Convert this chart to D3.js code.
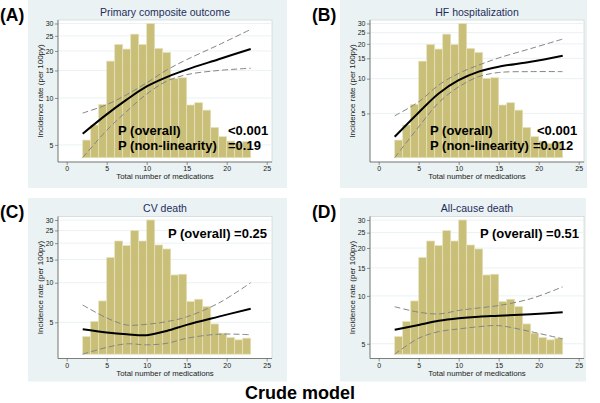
<!DOCTYPE html>
<html>
<head>
<meta charset="utf-8">
<script src="https://cdn.jsdelivr.net/npm/d3@7"></script>
<style>
  body { margin: 0; background: #fff; }
  svg text { font-family: "Liberation Sans", Arial, sans-serif; }
</style>
</head>
<body>
<svg id="viz" width="600" height="403"></svg>
<script>
// histogram of number of medications (percent of patients per 1-unit bin)
var binStarts = [2, 3, 4, 5, 6, 7, 8, 9, 10, 11, 12, 13, 14, 15, 16, 17, 18, 19, 20, 21, 22];
var binPct = [1.24, 2.30, 3.75, 6.80, 7.97, 7.65, 8.70, 7.97, 9.45, 7.69, 7.41,
              5.58, 5.63, 3.71, 3.87, 3.35, 2.13, 1.48, 1.17, 1.01, 1.13];

var xTicks = [0, 5, 10, 15, 20, 25];
var yTicks = [5, 10, 15, 20, 25, 30];
var yMax = 30;

// spline fit, incidence rate per 100py
var fitX = [2, 5, 7.5, 10, 12.5, 15, 19, 23];

var fitA = [5.9, 7.85, 9.75, 11.85, 13.6, 15.2, 17.7, 20.6];
var upA  = [8.0, 9.05, 10.5, 12.5, 15.1, 17.6, 21.9, 27.5];
var loA  = [4.14, 6.2, 8.2, 10.6, 12.8, 14.1, 15.0, 15.5];

var fitB = [3.14, 5.1, 7.45, 9.7, 11.5, 12.7, 14.0, 15.8];
var upB  = [4.77, 6.3, 8.8, 11.1, 13.1, 15.1, 18.2, 22.0];
var loB  = [2.07, 3.83, 6.2, 8.5, 10.4, 11.3, 11.5, 11.5];

var fitC = [4.43, 4.19, 4.06, 3.99, 4.3, 4.78, 5.52, 6.35];
var upC  = [6.77, 5.4, 4.77, 4.83, 5.06, 5.5, 7.0, 10.0];
var loC  = [2.86, 3.22, 3.43, 3.37, 3.46, 3.78, 4.06, 4.02];

var fitD = [6.12, 6.57, 6.97, 7.23, 7.4, 7.5, 7.67, 7.9];
var upD  = [8.55, 7.9, 7.7, 8.1, 8.4, 8.7, 9.6, 11.4];
var loD  = [4.3, 5.42, 5.96, 6.2, 6.4, 6.5, 5.96, 5.37];

var panelLetters = ["(A)", "(B)", "(C)", "(D)"];
var panelTitles = ["Primary composite outcome", "HF hospitalization", "CV death", "All-cause death"];
var pLabels = [["P (overall)", "P (non-linearity)"], ["P (overall)", "P (non-linearity)"], ["P (overall) =0.25"], ["P (overall) =0.51"]];
var pValues = [["<0.001", "=0.19"], ["<0.001", "=0.012"], [], []];

var panels = [
    {fit: fitA, up: upA, lo: loA, ox: 0,   oy: 0,   bgW: 259},
    {fit: fitB, up: upB, lo: loB, ox: 312, oy: 0,   bgW: 247},
    {fit: fitC, up: upC, lo: loC, ox: 0,   oy: 196.5, bgW: 259},
    {fit: fitD, up: upD, lo: loD, ox: 312, oy: 196.5, bgW: 246}
];

var svg = d3.select("#viz");
var navy = "#1f2d5c";

panels.forEach(function(p, i) {
    var g = svg.append("g").attr("transform", "translate(" + p.ox + "," + p.oy + ")");

    // graph region
    g.append("rect")
        .attr("x", 28).attr("y", i < 2 ? 0 : 1.5)
        .attr("width", p.bgW).attr("height", i < 2 ? 188 : 183.5)
        .attr("fill", "#eaf2f3");

    g.append("rect")
        .attr("x", 58).attr("y", 20).attr("width", 214).attr("height", 142)
        .attr("fill", "#fff").attr("stroke", "#c8cccc").attr("stroke-width", 0.6);

    var x = d3.scaleLinear().domain([0, 25]).range([66.7, 266.7]);
    var y = d3.scaleLog().domain([d3.min(p.lo), yMax]).range([157.7, 23.5]);
    var yh = d3.scaleLinear().domain([0, d3.max(binPct)]).range([157.7, 23.5]);

    // gridlines
    g.append("g").selectAll("line")
        .data(yTicks)
        .enter()
        .append("line")
        .attr("x1", 58.5).attr("x2", 271.5)
        .attr("y1", function(d) { return y(d); })
        .attr("y2", function(d) { return y(d); })
        .attr("stroke", "#eaf2f3").attr("stroke-width", 1);

    // histogram
    g.append("g").selectAll("rect")
        .data(binStarts)
        .enter()
        .append("rect")
        .attr("x", function(d) { return x(d); })
        .attr("width", function(d) { return x(d + 1) - x(d); })
        .attr("y", function(d, j) { return yh(binPct[j]); })
        .attr("height", function(d, j) { return yh(0) - yh(binPct[j]); })
        .attr("fill", "#c9bf79")
        .attr("stroke", "#e6e2bd")
        .attr("stroke-width", 0.7);

    var line = function(vals) {
        return d3.line()
            .x(function(d, j) { return x(fitX[j]); })
            .y(function(d) { return y(d); })
            .curve(d3.curveCatmullRom.alpha(0.5))(vals);
    };

    g.append("path").attr("d", line(p.up)).attr("fill", "none")
        .attr("stroke", "#858585").attr("stroke-width", 1).attr("stroke-dasharray", "6,3");
    g.append("path").attr("d", line(p.lo)).attr("fill", "none")
        .attr("stroke", "#858585").attr("stroke-width", 1).attr("stroke-dasharray", "6,3");
    g.append("path").attr("d", line(p.fit)).attr("fill", "none")
        .attr("stroke", "#000").attr("stroke-width", 2);

    // axes
    var yAxis = g.append("g").attr("transform", "translate(58,0)")
        .call(d3.axisLeft(y).tickValues(yTicks).tickFormat(d3.format("d")).tickSize(3).tickPadding(1.5));
    var xAxis = g.append("g").attr("transform", "translate(0,162)")
        .call(d3.axisBottom(x).tickValues(xTicks).tickSize(3).tickPadding(1.5));
    [yAxis, xAxis].forEach(function(a) {
        a.select(".domain").remove();
        a.selectAll("line").attr("stroke", "#555").attr("stroke-width", 0.6);
        a.selectAll("text").attr("font-size", 7).attr("fill", "#222")
            .attr("font-family", "Liberation Sans, Arial, sans-serif");
    });
    g.append("line").attr("x1", 58).attr("x2", 58).attr("y1", 20).attr("y2", 162)
        .attr("stroke", "#555").attr("stroke-width", 0.7);
    g.append("line").attr("x1", 58).attr("x2", 272).attr("y1", 162).attr("y2", 162)
        .attr("stroke", "#555").attr("stroke-width", 0.7);

    g.append("text")
        .attr("transform", "translate(43,91) rotate(-90)")
        .attr("text-anchor", "middle")
        .attr("font-size", 8).attr("fill", "#222")
        .text("Incidence rate (per 100py)");

    g.append("text")
        .attr("x", 165).attr("y", 179)
        .attr("text-anchor", "middle")
        .attr("font-size", 7.8).attr("fill", "#222")
        .text("Total number of medications");

    g.append("text")
        .attr("x", 165).attr("y", 15.5)
        .attr("text-anchor", "middle")
        .attr("font-size", 10.5).attr("fill", navy)
        .text(panelTitles[i]);

    g.append("text")
        .attr("x", 0).attr("y", 21)
        .attr("font-size", 17.5).attr("font-weight", "bold")
        .text(panelLetters[i]);

    // p-value annotations
    if (pValues[i].length) {
        pLabels[i].forEach(function(t, k) {
            g.append("text")
                .attr("x", 118).attr("y", 135 + k * 14.5)
                .attr("font-size", 13).attr("font-weight", "bold")
                .text(t);
            g.append("text")
                .attr("x", i == 0 ? 228 : 533 - 312 + (k == 0 ? 4 : 0)).attr("y", 135 + k * 14.5)
                .attr("font-size", 13).attr("font-weight", "bold")
                .text(pValues[i][k]);
        });
    } else {
        g.append("text")
            .attr("x", 267).attr("y", 41.5)
            .attr("text-anchor", "end")
            .attr("font-size", 13).attr("font-weight", "bold")
            .text(pLabels[i][0]);
    }
});

svg.append("text")
    .attr("x", 300).attr("y", 399)
    .attr("text-anchor", "middle")
    .attr("font-size", 18).attr("font-weight", "bold")
    .text("Crude model");
</script>
</body>
</html>
